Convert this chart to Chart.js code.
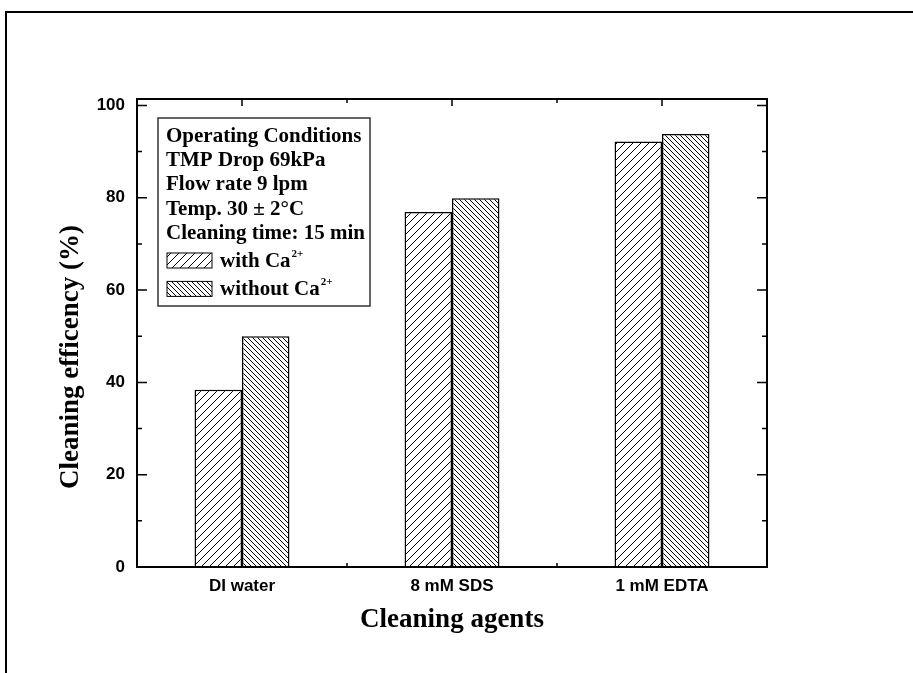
<!DOCTYPE html>
<html>
<head>
<meta charset="utf-8">
<script src="https://cdn.jsdelivr.net/npm/chart.js@4"></script>
<style>
  body { margin: 0; background: #fff; }
  #wrap { position: relative; width: 913px; height: 673px; overflow: hidden; }
  #frame { position: absolute; left: 5px; top: 11px; right: -5px; bottom: -5px;
           border-top: 2px solid #000; border-left: 2px solid #000; }
  canvas { position: absolute; left: 0; top: 0; }
</style>
</head>
<body>
<div id="wrap">
  <div id="frame"></div>
  <canvas id="chart" width="913" height="673"></canvas>
</div>
<script>
const categories = ['DI water', '8 mM SDS', '1 mM EDTA'];
const withCa = [38.4, 76.9, 92.2];
const withoutCa = [50.0, 79.9, 93.8];
const seriesLabels = ['with Ca', 'without Ca'];
const yTicks = [0, 20, 40, 60, 80, 100];
const conditionLines = ['Operating Conditions', 'TMP Drop 69kPa', 'Flow rate 9 lpm',
                        'Temp. 30 \u00B1 2\u00B0C', 'Cleaning time: 15 min'];

const serif = '"Liberation Serif", "Times New Roman", serif';
const sans = '"Liberation Sans", Arial, sans-serif';

function hatch(size, forward) {
    const c = document.createElement('canvas');
    c.width = size; c.height = size;
    const g = c.getContext('2d');
    g.fillStyle = '#fff';
    g.fillRect(0, 0, size, size);
    g.strokeStyle = '#000';
    g.lineWidth = 1;
    g.beginPath();
    if (forward) {
        g.moveTo(-1, size + 1); g.lineTo(size + 1, -1);
        g.moveTo(-2, 2); g.lineTo(2, -2);
        g.moveTo(size - 2, size + 2); g.lineTo(size + 2, size - 2);
    } else {
        g.moveTo(-1, -1); g.lineTo(size + 1, size + 1);
        g.moveTo(size - 2, -2); g.lineTo(size + 2, 2);
        g.moveTo(-2, size - 2); g.lineTo(2, size + 2);
    }
    g.stroke();
    return g.createPattern(c, 'repeat');
}

const fwdHatch = hatch(8, true);
const backHatch = hatch(5, false);

// frame, inward ticks, legend box and y title
const decor = {
    id: 'decor',
    afterDraw: function (chart) {
        const ctx = chart.ctx;
        const a = chart.chartArea;
        const x = chart.scales.x, y = chart.scales.y;
        ctx.save();
        ctx.strokeStyle = '#000';
        ctx.lineWidth = 2;
        ctx.strokeRect(a.left, a.top, a.right - a.left, a.bottom - a.top);

        ctx.lineWidth = 1.5;
        ctx.beginPath();
        for (let v = 0; v <= 100; v += 10) {
            const py = y.getPixelForValue(v);
            const len = v % 20 === 0 ? 10 : 5;
            ctx.moveTo(a.left, py); ctx.lineTo(a.left + len, py);
            ctx.moveTo(a.right, py); ctx.lineTo(a.right - len, py);
        }
        for (let i = 0; i < categories.length; i++) {
            const px = x.getPixelForValue(i);
            ctx.moveTo(px, a.top); ctx.lineTo(px, a.top + 7);
            ctx.moveTo(px, a.bottom); ctx.lineTo(px, a.bottom - 7);
            if (i < categories.length - 1) {
                const mx = (px + x.getPixelForValue(i + 1)) / 2;
                ctx.moveTo(mx, a.top); ctx.lineTo(mx, a.top + 4);
                ctx.moveTo(mx, a.bottom); ctx.lineTo(mx, a.bottom - 4);
            }
        }
        ctx.stroke();

        // legend box
        ctx.fillStyle = '#fff';
        ctx.fillRect(158, 118, 212, 188);
        ctx.strokeStyle = '#333';
        ctx.lineWidth = 1.5;
        ctx.strokeRect(158, 118, 212, 188);
        ctx.fillStyle = '#000';
        ctx.font = 'bold 21px ' + serif;
        ctx.textBaseline = 'alphabetic';
        ctx.textAlign = 'left';
        conditionLines.forEach(function (t, i) {
            ctx.fillText(t, 166, 142 + i * 24.2);
        });
        const fills = [fwdHatch, backHatch];
        seriesLabels.forEach(function (t, i) {
            const sy = 253 + i * 28.4;
            ctx.fillStyle = fills[i];
            ctx.fillRect(167, sy, 45, 15);
            ctx.strokeStyle = '#000';
            ctx.lineWidth = 1;
            ctx.strokeRect(167, sy, 45, 15);
            ctx.fillStyle = '#000';
            ctx.font = 'bold 21px ' + serif;
            ctx.fillText(t, 220, sy + 14);
            const w = ctx.measureText(t).width;
            ctx.font = 'bold 11px ' + serif;
            ctx.fillText('2+', 220 + w + 1, sy + 4);
        });

        // y axis title
        ctx.translate(71, 357);
        ctx.rotate(-Math.PI / 2);
        ctx.font = 'bold 27px ' + serif;
        ctx.textAlign = 'center';
        ctx.textBaseline = 'middle';
        ctx.fillText('Cleaning efficency (%)', 0, 0);
        ctx.restore();
    }
};

new Chart(document.getElementById('chart'), {
    type: 'bar',
    data: {
        labels: categories,
        datasets: [{
            label: seriesLabels[0],
            data: withCa,
            backgroundColor: fwdHatch,
            borderColor: '#000',
            borderWidth: 1.5
        }, {
            label: seriesLabels[1],
            data: withoutCa,
            backgroundColor: backHatch,
            borderColor: '#000',
            borderWidth: 1.5
        }]
    },
    options: {
        responsive: false,
        animation: false,
        layout: { padding: { top: 99, right: 146, left: 0, bottom: 0 } },
        datasets: { bar: { categoryPercentage: 0.452, barPercentage: 1 } },
        plugins: { legend: { display: false }, tooltip: { enabled: false } },
        scales: {
            x: {
                offset: true,
                grid: { display: false, drawTicks: false },
                border: { display: false },
                ticks: { color: '#000', padding: 9, font: { family: sans, size: 17, weight: 'bold' } },
                title: {
                    display: true, text: 'Cleaning agents', color: '#000',
                    font: { family: serif, size: 27, weight: 'bold' },
                    padding: { top: 4, bottom: 37 }
                },
                afterFit: function (s) { s.height = 106; }
            },
            y: {
                min: 0,
                max: 101.4,
                grid: { display: false, drawTicks: false },
                border: { display: false },
                ticks: { color: '#000', padding: 12, font: { family: sans, size: 17, weight: 'bold' } },
                afterBuildTicks: function (s) {
                    s.ticks = yTicks.map(function (v) { return { value: v }; });
                },
                afterFit: function (s) { s.width = 137; }
            }
        }
    },
    plugins: [decor]
});
</script>
</body>
</html>
